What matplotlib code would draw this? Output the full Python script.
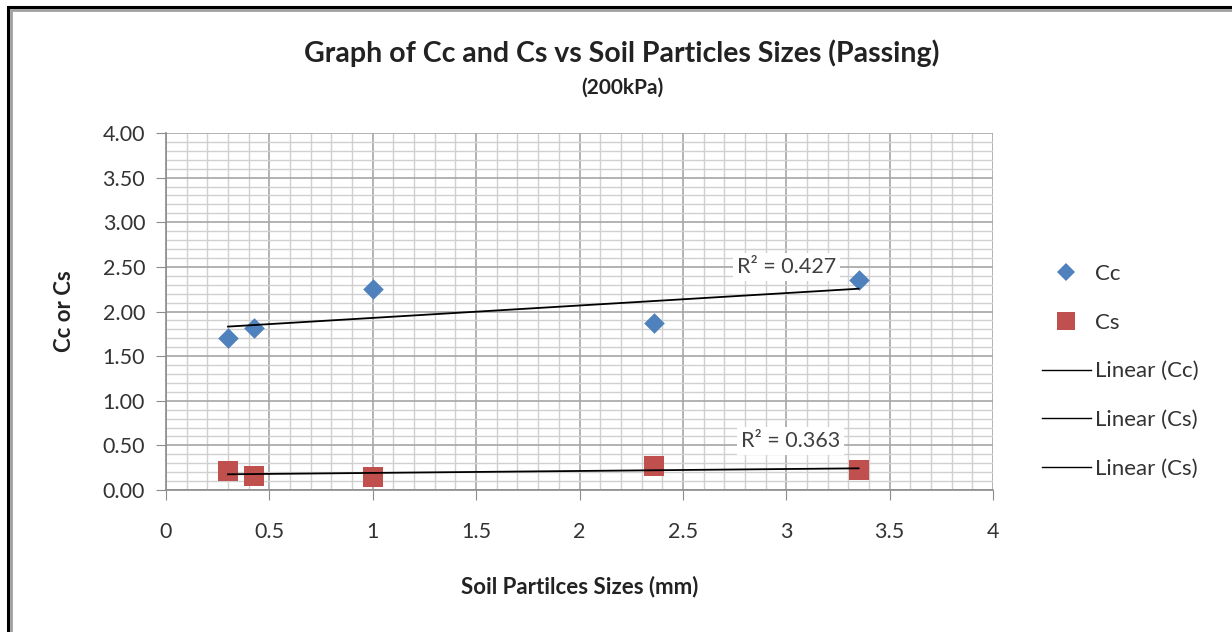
import numpy as np
import matplotlib
matplotlib.use("Agg")
import matplotlib.pyplot as plt
from matplotlib.ticker import MultipleLocator, FormatStrFormatter, FuncFormatter
from matplotlib.lines import Line2D
from matplotlib.patches import Rectangle

plt.rcParams['font.family'] = ['Lato', 'DejaVu Sans']

sizes = [0.3, 0.425, 1.0, 2.36, 3.35]
cc = [1.70, 1.81, 2.25, 1.87, 2.35]
cs = [0.21, 0.16, 0.15, 0.27, 0.22]
r2_cc_label = "R² = 0.427"
r2_cs_label = "R² = 0.363"
title = "Graph of Cc and Cs vs Soil Particles Sizes (Passing)"
subtitle = "(200kPa)"
xlabel = "Soil Partilces Sizes (mm)"
ylabel = "Cc or Cs"

fig = plt.figure(figsize=(12.32, 6.32), dpi=100)
ax = fig.add_axes([166/1232, 1-490/632, (993-166)/1232, (490-133)/632])

ax.set_xlim(0, 4)
ax.set_ylim(0, 4)
ax.xaxis.set_major_locator(MultipleLocator(0.5))
ax.xaxis.set_minor_locator(MultipleLocator(0.1))
ax.yaxis.set_major_locator(MultipleLocator(0.5))
ax.yaxis.set_minor_locator(MultipleLocator(0.1))
ax.yaxis.set_major_formatter(FormatStrFormatter('%.2f'))
ax.xaxis.set_major_formatter(FuncFormatter(lambda v, p: ('%g' % v)))

ax.grid(which='major', color='#a6a6a6', linewidth=1.2, zorder=0)
ax.grid(which='minor', color='#d0d0d0', linewidth=1.0, zorder=0)
ax.set_axisbelow(True)
for s in ['top', 'right']:
    ax.spines[s].set_visible(False)
for s in ['left', 'bottom']:
    ax.spines[s].set_color('#8c8c8c')
    ax.spines[s].set_linewidth(1.2)
ax.tick_params(which='major', length=7, color='#8c8c8c', labelsize=15.5, labelcolor='#333333', pad=8)
ax.tick_params(which='minor', length=0)
ax.tick_params(axis='x', pad=16)

ax.scatter(sizes, cc, marker='D', s=110, color='#4f81bd', zorder=3, label='Cc', linewidths=0)
ax.scatter(sizes, cs, marker='s', s=220, color='#c0504d', zorder=3, label='Cs', linewidths=0)

xs = np.array(sizes)
xr = np.array([xs.min(), xs.max()])
p1 = np.polyfit(xs, cc, 1)
p2 = np.polyfit(xs, cs, 1)
ax.plot(xr, np.polyval(p1, xr), color='black', lw=1.3, zorder=4)
ax.plot(xr, np.polyval(p2, xr), color='black', lw=1.3, zorder=4)

ax.text(3.0, 2.50, r2_cc_label, fontsize=15.5, color='#404040', ha='center', va='center',
        bbox=dict(facecolor='white', edgecolor='none', pad=3), zorder=5)
ax.text(3.02, 0.55, r2_cs_label, fontsize=15.5, color='#404040', ha='center', va='center',
        bbox=dict(facecolor='white', edgecolor='none', pad=3), zorder=5)

ax.set_xlabel(xlabel, fontsize=16, fontweight='bold', color='#222222', labelpad=24)
ax.set_ylabel(ylabel, fontsize=16, fontweight='bold', color='#222222', labelpad=20)

fig.text(0.505, 1-53/632, title, fontsize=20.5, fontweight='bold', color='#222222', ha='center', va='center')
fig.text(0.505, 1-88/632, subtitle, fontsize=15, fontweight='bold', color='#222222', ha='center', va='center')

handles = [
    Line2D([], [], marker='D', color='#4f81bd', linestyle='none', markersize=9, markeredgewidth=0),
    Line2D([], [], marker='s', color='#c0504d', linestyle='none', markersize=13, markeredgewidth=0),
    Line2D([], [], color='black', lw=1.0),
    Line2D([], [], color='black', lw=1.0),
    Line2D([], [], color='black', lw=1.0),
]
labels = ['Cc', 'Cs', 'Linear (Cc)', 'Linear (Cs)', 'Linear (Cs)']
fig.legend(handles, labels, loc='upper left', bbox_to_anchor=(1042/1232, 1-264/632),
           frameon=False, fontsize=16, labelcolor='#333333', handlelength=2.2,
           handletextpad=0.2, labelspacing=1.29, borderaxespad=0, borderpad=0)

# outer chart border
fig.add_artist(Rectangle((8/1232, -0.1), 1.2, 1-7/632+0.1, transform=fig.transFigure,
                         fill=False, edgecolor='black', linewidth=2.2))
fig.add_artist(Rectangle((11/1232, -0.1), 1.2, 1-10/632+0.1, transform=fig.transFigure,
                         fill=False, edgecolor='#a0a0a0', linewidth=2.0))

fig.savefig('out.png', dpi=100)
